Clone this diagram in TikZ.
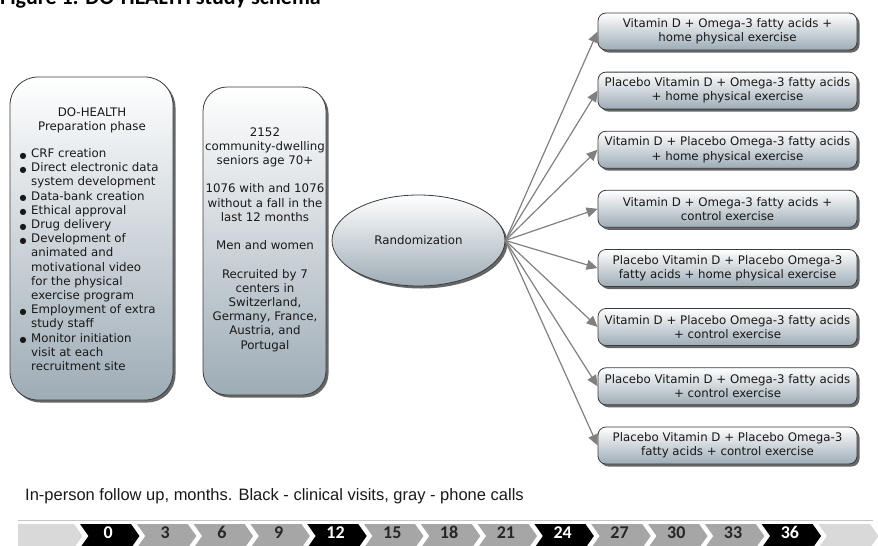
\documentclass[tikz,border=0pt]{standalone}
\usepackage{fontspec}
\setmainfont{DejaVu Sans}
\newfontfamily\capfont{Liberation Sans}
\newfontfamily\calfont{Carlito}
\usetikzlibrary{shapes.geometric,shadows,arrows.meta}
\definecolor{boxbot}{RGB}{158,172,182}
\definecolor{boxline}{RGB}{60,60,60}
\definecolor{arrgray}{RGB}{128,128,128}
\definecolor{chevgray}{RGB}{166,166,166}
\definecolor{chevlight}{RGB}{217,217,217}
\definecolor{txt}{RGB}{25,25,25}
\definecolor{txtd}{RGB}{38,38,38}
\newcommand{\bul}{\makebox[11.5pt][l]{\raisebox{-0.5pt}{\fontsize{8}{8}\selectfont ●}}}
\begin{document}
\begin{tikzpicture}[x=1pt,y=-1pt,
  boxfont/.style={font=\fontsize{11.8}{14.2}\selectfont, text=txt},
  gradbox/.style={draw=boxline, line width=0.8pt, top color=white, bottom color=boxbot,
    drop shadow={shadow xshift=2.5pt, shadow yshift=-2.5pt, opacity=0.6, fill=black}},
  armbox/.style={gradbox, rounded corners=8pt, minimum width=259pt, minimum height=37pt,
    align=center, inner sep=0pt, boxfont},
  arr/.style={draw=arrgray, line width=1.2pt, -{Triangle[length=11pt,width=10pt]}},
  txtnode/.style={boxfont, inner sep=0pt, anchor=base},
  digit/.style={font=\calfont\bfseries\fontsize{18}{20}\selectfont, inner sep=0pt, anchor=base}
]
\useasboundingbox (0,0) rectangle (878,546);

% title (partly cut off at top, as in the reference)
\node[font=\calfont\bfseries\fontsize{22}{24}\selectfont, anchor=base west, inner sep=0pt] (title) at (0,5) {Figure 1: DO-HEALTH study schema};

% left boxes
\node[gradbox, rounded corners=28pt, minimum width=163pt, minimum height=323pt, inner sep=0pt] (prep) at (91.5,238.5) {};
\node[txtnode] (prephead) at (92,116.5) {\begin{tabular}[t]{@{}c@{}}DO-HEALTH\\Preparation phase\end{tabular}};
\node[txtnode, anchor=base west] (preplist) at (19.5,157.5) {\begin{tabular}[t]{@{}l@{}l@{}}
\bul & CRF creation\\
\bul & Direct electronic data\\
 & system development\\
\bul & Data-bank creation\\
\bul & Ethical approval\\
\bul & Drug delivery\\
\bul & Development of\\
 & animated and\\
 & motivational video\\
 & for the physical\\
 & exercise program\\
\bul & Employment of extra\\
 & study staff\\
\bul & Monitor initiation\\
 & visit at each\\
 & recruitment site
\end{tabular}};

\node[gradbox, rounded corners=24pt, minimum width=123pt, minimum height=308pt, inner sep=0pt] (pop) at (264.5,241) {};
\node[txtnode] (poptext) at (265,136) {\begin{tabular}[t]{@{}c@{}}
2152\\
community-dwelling\\
seniors age 70+\\
\\
1076 with and 1076\\
without a fall in the\\
last 12 months\\
\\
Men and women\\
\\
Recruited by 7\\
centers in\\
Switzerland,\\
Germany, France,\\
Austria, and\\
Portugal
\end{tabular}};

% randomization
\node[gradbox, ellipse, minimum width=173pt, minimum height=91pt, inner sep=0pt, boxfont] (rand) at (418.5,240.5) {Randomization};

% arms
\node[armbox] (a1) at (727.5,31.5) {Vitamin D + Omega-3 fatty acids +\\home physical exercise};
\node[armbox] (a2) at (727.5,90.6) {Placebo Vitamin D + Omega-3 fatty acids\\+ home physical exercise};
\node[armbox] (a3) at (727.5,149.7) {Vitamin D + Placebo Omega-3 fatty acids\\+ home physical exercise};
\node[armbox] (a4) at (727.5,208.8) {Vitamin D + Omega-3 fatty acids +\\control exercise};
\node[armbox] (a5) at (727.5,268) {Placebo Vitamin D + Placebo Omega-3\\fatty acids + home physical exercise};
\node[armbox] (a6) at (727.5,327) {Vitamin D + Placebo Omega-3 fatty acids\\+ control exercise};
\node[armbox] (a7) at (727.5,386.3) {Placebo Vitamin D + Omega-3 fatty acids\\+ control exercise};
\node[armbox] (a8) at (727.5,445.5) {Placebo Vitamin D + Placebo Omega-3\\fatty acids + control exercise};

\foreach \k in {1,...,8} {\draw[arr] (rand.east) -- (a\k.west);}

% caption
\node[font=\capfont\fontsize{16.5}{18}\selectfont, text=txt, anchor=base west, inner sep=0pt] (cap) at (25,500) {In-person follow up, months. Black - clinical visits, gray - phone calls};

% timeline
\coordinate (tl0) at (18,520.7);
\coordinate (tl1) at (873,520.7);
\draw[gray!45, line width=0.8pt] (tl0) -- (tl1);
\fill[chevlight] (18,524) -- (74,524) -- (82.5,536) -- (74,548) -- (18,548) -- cycle;
\foreach \i/\lab/\fc/\tc in {0/0/black/white,1/3/chevgray/txtd,2/6/chevgray/txtd,3/9/chevgray/txtd,4/12/black/white,5/15/chevgray/txtd,6/18/chevgray/txtd,7/21/chevgray/txtd,8/24/black/white,9/27/chevgray/txtd,10/30/chevgray/txtd,11/33/chevgray/txtd,12/36/black/white} {
  \pgfmathsetmacro{\xo}{80+\i*56.8}
  \fill[\fc] (\xo,524) -- ++(51,0) -- ++(8.5,12) -- ++(-8.5,12) -- ++(-51,0) -- ++(8.5,-12) -- cycle;
  \node[digit, text=\tc] (m\lab) at (\xo+28.3,538.3) {\lab};
}
\fill[chevlight] (818.4,524) -- (870,524) -- (878.5,536) -- (870,548) -- (818.4,548) -- (826.9,536) -- cycle;
\end{tikzpicture}
\end{document}
